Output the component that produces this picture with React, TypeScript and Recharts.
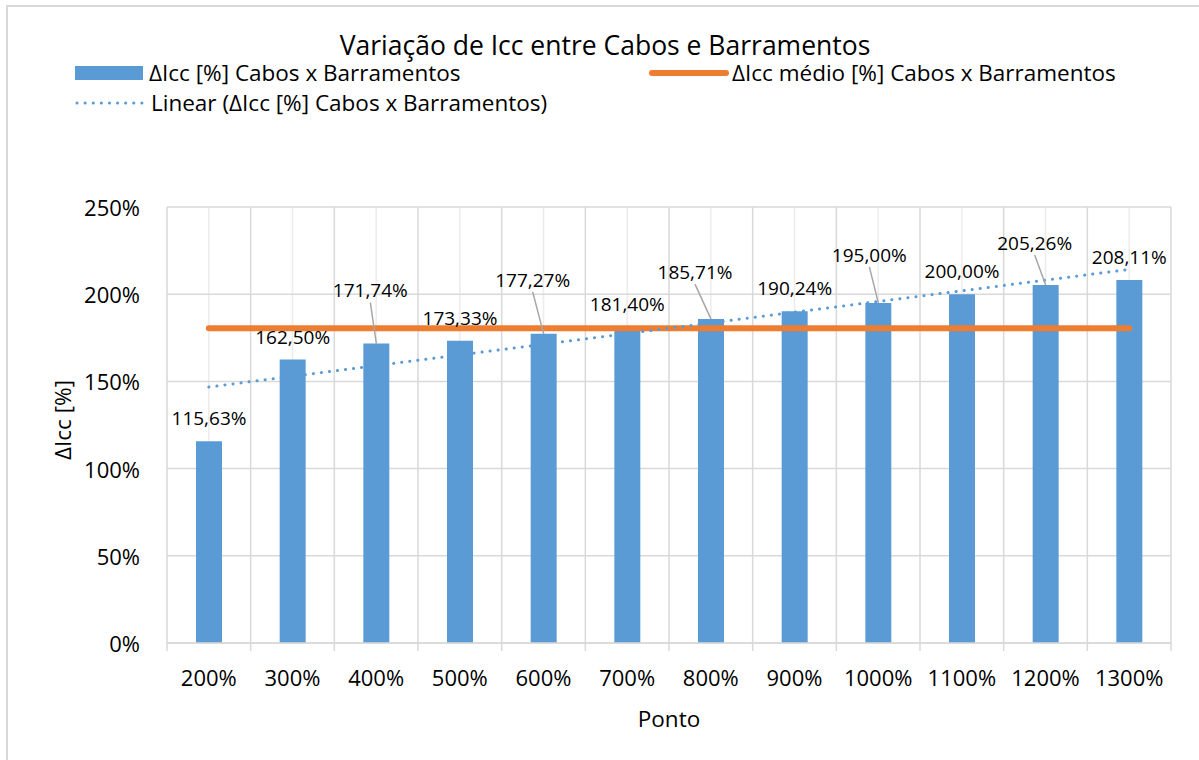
import React from "react"
import {
  ComposedChart,
  Bar,
  Line,
  XAxis,
  YAxis,
  CartesianGrid,
  ReferenceLine,
  LabelList,
  Label,
} from "recharts"

// pontos (eixo X)
const pontos = ["200%", "300%", "400%", "500%", "600%", "700%", "800%", "900%", "1000%", "1100%", "1200%", "1300%"]

// ΔIcc [%] Cabos x Barramentos
const deltaIcc = [115.63, 162.5, 171.74, 173.33, 177.27, 181.4, 185.71, 190.24, 195.0, 200.0, 205.26, 208.11]

// ΔIcc médio [%]
const deltaMedio = 180.52

// linha de tendência linear (início / fim)
const tendencia = [146.8, 214.2]

const yTicks = [0, 50, 100, 150, 200, 250]

const data = pontos.map((p, i) => ({ ponto: p, delta: deltaIcc[i], medio: deltaMedio }))

const FONT = "'Open Sans', sans-serif"
const BLUE = "#5B9BD5"
const ORANGE = "#ED7D31"
const GRID = "#d9d9d9"
const GRID_LIGHT = "#ececec"

const W = 1199
const H = 760
const M = { top: 207, right: 28, bottom: 0, left: 0 }
const Y_W = 167
const X_H = 117
const PLOT_W = W - M.left - M.right - Y_W
const N = pontos.length
const BW = PLOT_W / N

// deslocamento dos rótulos de dados (alguns com linha de chamada)
const labelShift: Record<number, [number, number]> = {
  2: [-6, -30],
  4: [-11, -31],
  6: [-16, -24],
  8: [-9, -25],
  10: [-11, -19],
}

const fmt = (v: number) => v.toFixed(2).replace(".", ",") + "%"

const DataLabel = (props: any) => {
  const { x, y, width, value, index } = props
  const cx = x + width / 2
  const shift = labelShift[index]
  const dx = shift ? shift[0] : 0
  const dy = shift ? shift[1] : 0
  const ty = y - 23 + dy
  return (
    <g>
      {shift && <line x1={cx + dx} y1={ty + 12} x2={cx} y2={y} stroke="#a6a6a6" strokeWidth={1.5} />}
      <text x={cx + dx} y={ty} textAnchor="middle" dominantBaseline="central" fontFamily={FONT} fontSize={19} fill="#000">
        {fmt(value)}
      </text>
    </g>
  )
}

const XTick = (props: any) => {
  const { x, y, payload, index } = props
  return (
    <g>
      <line x1={x - BW / 2} y1={y} x2={x - BW / 2} y2={y + 8} stroke={GRID} strokeWidth={1.5} />
      {index === N - 1 && <line x1={x + BW / 2} y1={y} x2={x + BW / 2} y2={y + 8} stroke={GRID} strokeWidth={1.5} />}
      <text x={x} y={y + 34} textAnchor="middle" dominantBaseline="central" fontFamily={FONT} fontSize={22} fill="#000">
        {payload.value}
      </text>
    </g>
  )
}

const YTick = (props: any) => {
  const { x, y, payload } = props
  return (
    <text x={x} y={y} textAnchor="end" dominantBaseline="central" fontFamily={FONT} fontSize={22} fill="#000">
      {payload.value}%
    </text>
  )
}

const boundaries = ({ offset }: any) => Array.from({ length: N + 1 }, (_, i) => offset.left + (i * offset.width) / N)
const centers = ({ offset }: any) => Array.from({ length: N }, (_, i) => offset.left + ((i + 0.5) * offset.width) / N)

const legendText: React.CSSProperties = { fontFamily: FONT, fontSize: 22.5, color: "#000", whiteSpace: "nowrap" }

function Legenda() {
  return (
    <>
      <div style={{ position: "absolute", left: 75, top: 57, display: "flex", alignItems: "center" }}>
        <svg width={68} height={26}>
          <rect x={0} y={6} width={68} height={14} fill={BLUE} />
        </svg>
        <span style={{ ...legendText, marginLeft: 6 }}>ΔIcc [%] Cabos x Barramentos</span>
      </div>
      <div style={{ position: "absolute", left: 648, top: 57, display: "flex", alignItems: "center" }}>
        <svg width={82} height={26}>
          <line x1={4} y1={13} x2={78} y2={13} stroke={ORANGE} strokeWidth={6} strokeLinecap="round" />
        </svg>
        <span style={{ ...legendText, marginLeft: 2 }}>ΔIcc médio [%] Cabos x Barramentos</span>
      </div>
      <div style={{ position: "absolute", left: 75, top: 87, display: "flex", alignItems: "center" }}>
        <svg width={72} height={26}>
          <line x1={2} y1={13} x2={70} y2={13} stroke={BLUE} strokeWidth={3} strokeDasharray="0.1 8" strokeLinecap="round" />
        </svg>
        <span style={{ ...legendText, marginLeft: 4 }}>Linear (ΔIcc [%] Cabos x Barramentos)</span>
      </div>
    </>
  )
}

export default function App() {
  return (
    <div style={{ position: "absolute", left: 0, top: 0, width: W, height: H, background: "#fff", overflow: "hidden" }}>
      <div style={{ position: "absolute", left: 6, top: 5, right: 0, bottom: 0, borderTop: "2px solid #d9d9d9", borderLeft: "2px solid #d9d9d9" }} />
      <div
        style={{
          position: "absolute",
          left: 0,
          width: 1210,
          top: 27,
          textAlign: "center",
          fontFamily: FONT,
          fontSize: 26.5,
          lineHeight: "36px",
          color: "#000",
        }}
      >
        Variação de Icc entre Cabos e Barramentos
      </div>
      <Legenda />
      <div style={{ position: "absolute", left: 0, top: 0 }}>
        <ComposedChart width={W} height={H} data={data} margin={M} barSize={26}>
          <CartesianGrid stroke={GRID_LIGHT} strokeWidth={1.5} horizontal={false} verticalCoordinatesGenerator={centers} />
          <CartesianGrid stroke={GRID} strokeWidth={1.5} verticalCoordinatesGenerator={boundaries} />
          <XAxis
            dataKey="ponto"
            height={X_H}
            tickLine={false}
            tickSize={0}
            tickMargin={0}
            axisLine={{ stroke: GRID, strokeWidth: 1.5 }}
            tick={<XTick />}
            interval={0}
          >
            <Label
              content={({ viewBox }: any) => (
                <text x={viewBox.x + viewBox.width / 2} y={viewBox.y + 75} textAnchor="middle" dominantBaseline="central" fontFamily={FONT} fontSize={22.5} fill="#000">
                  Ponto
                </text>
              )}
            />
          </XAxis>
          <YAxis
            width={Y_W}
            domain={[0, 250]}
            ticks={yTicks}
            axisLine={false}
            tickLine={false}
            tickSize={0}
            tickMargin={27}
            tick={<YTick />}
          >
            <Label
              content={({ viewBox }: any) => {
                const cx = viewBox.x + 62
                const cy = viewBox.y + viewBox.height / 2 - 5
                return (
                  <text x={cx} y={cy} transform={`rotate(-90 ${cx} ${cy})`} textAnchor="middle" dominantBaseline="central" fontFamily={FONT} fontSize={22.5} fill="#000">
                    ΔIcc [%]
                  </text>
                )
              }}
            />
          </YAxis>
          <Bar dataKey="delta" fill={BLUE} isAnimationActive={false}>
            <LabelList dataKey="delta" content={<DataLabel />} />
          </Bar>
          <Line dataKey="medio" stroke={ORANGE} strokeWidth={6} strokeLinecap="round" dot={false} activeDot={false} isAnimationActive={false} />
          <ReferenceLine
            segment={[
              { x: pontos[0], y: tendencia[0] },
              { x: pontos[N - 1], y: tendencia[1] },
            ]}
            stroke={BLUE}
            strokeWidth={3}
            strokeDasharray="0.1 8"
            strokeLinecap="round"
          />
        </ComposedChart>
      </div>
    </div>
  )
}
